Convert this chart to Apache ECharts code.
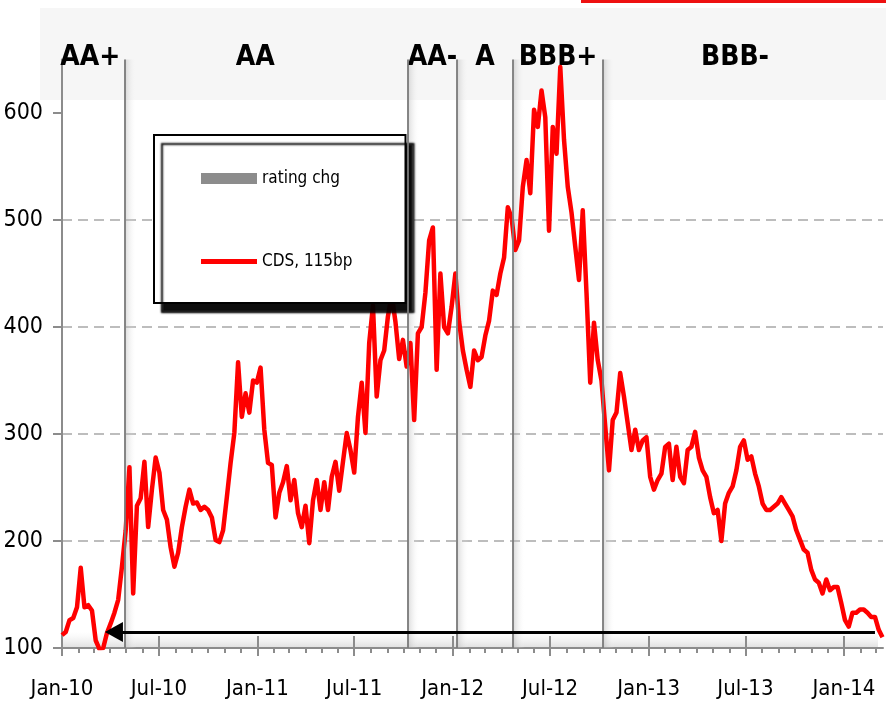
<!DOCTYPE html>
<html>
<head>
<meta charset="utf-8">
<script src="https://cdn.jsdelivr.net/npm/echarts@6/dist/echarts.min.js"></script>
<style>
html, body { margin: 0; padding: 0; background: #fff; }
#main { width: 886px; height: 705px; }
</style>
</head>
<body>
<div id="main"></div>
<script>
// weekly CDS levels (bp), first week starting 2010-01-01
var cds = [
	112, 115, 126, 128, 138, 175, 138, 140, 135, 107, 99, 100, 114, 123, 133, 145, 176, 210, 269, 151,
	233, 240, 274, 213, 248, 278, 264, 229, 220, 194, 176, 189, 213, 232, 248, 235, 236, 229, 232, 229,
	222, 201, 199, 210, 241, 273, 301, 367, 316, 338, 320, 350, 348, 362, 304, 273, 271, 222, 245, 255,
	270, 238, 257, 226, 213, 233, 198, 238, 257, 229, 255, 229, 260, 274, 247, 274, 301, 285, 264, 316,
	348, 301, 385, 420, 335, 369, 378, 410, 430, 405, 370, 388, 363, 385, 313, 394, 400, 432, 481, 493,
	360, 450, 400, 394, 419, 450, 405, 378, 360, 344, 378, 369, 372, 392, 406, 434, 430, 450, 465, 512,
	502, 472, 481, 531, 556, 525, 603, 587, 621, 596, 490, 587, 562, 643, 575, 531, 507, 475, 444, 509,
	432, 348, 404, 369, 350, 307, 266, 313, 320, 357, 335, 310, 285, 304, 285, 294, 297, 260, 248, 257,
	263, 288, 291, 257, 288, 260, 254, 285, 288, 302, 278, 266, 260, 241, 226, 229, 200, 235, 245, 251,
	266, 288, 294, 276, 279, 263, 251, 235, 229, 229, 232, 235, 241, 235, 229, 223, 210, 201, 192, 189,
	173, 164, 161, 151, 164, 154, 157, 157, 142, 126, 120, 133, 133, 136, 136, 133, 129, 129, 117, 110
];
var firstWeek = '2010-01-01';

// S&P rating and the date each rating began
var ratings = ['AA+', 'AA', 'AA-', 'A', 'BBB+', 'BBB-'];
var ratingStarts = ['2010-01-01', '2010-04-28', '2011-10-09', '2012-01-09', '2012-04-23', '2012-10-08'];

var xMin = '2010-01-01';
var xMax = '2014-03-15';
var xTickDates = ['2010-01-01', '2010-07-01', '2011-01-01', '2011-07-01', '2012-01-01',
	'2012-07-01', '2013-01-01', '2013-07-01', '2014-01-01'];
var xTickLabels = ['Jan-10', 'Jul-10', 'Jan-11', 'Jul-11', 'Jan-12', 'Jul-12', 'Jan-13', 'Jul-13', 'Jan-14'];
var yTicks = [100, 200, 300, 400, 500, 600];

// 115bp reference arrow
var arrowLevel = 115;
var arrowFrom = '2014-02-28';
var arrowTo = '2010-04-08';

var narrow = "'DejaVu Sans Condensed', 'Liberation Sans Narrow', sans-serif";
var DAY = 864e5;
var parse = function(s) { return +echarts.time.parse(s); };

var t0 = parse(firstWeek);
var cdsData = cds.map(function(v, k) { return [t0 + k * 7 * DAY, v]; });

var majorTicks = xTickDates.map(parse);
var monthTicks = [];
for (var y = 2010; y <= 2014; y++) {
	for (var m = 0; m < 12; m++) {
		var t = +new Date(y, m, 1);
		if (t <= parse(xMax)) monthTicks.push(t);
	}
}

var changes = ratingStarts.slice(1).map(parse);

// label nudges for the rating names
var labelShift = { 'AA': -11, 'BBB-': -8, 'AA+': -3 };
var ratingAreas = ratings.map(function(r, i) {
	var s = parse(ratingStarts[i]);
	var e = i + 1 < ratingStarts.length ? parse(ratingStarts[i + 1]) : parse(xMax);
	return [{
		name: r, xAxis: s,
		label: { offset: [labelShift[r] || 0, 0] }
	}, { xAxis: e }];
});

var grey = '#8c8c8c';

var myChart = echarts.init(document.getElementById('main'));

var option = {
	animation: false,
	backgroundColor: '#fff',
	graphic: [{
		type: 'rect', z: -1,
		shape: { x: 40, y: 8, width: 846, height: 92 },
		style: { fill: '#f6f6f6' }
	}, {
		type: 'rect', z: -1,
		shape: { x: 62, y: 632, width: 816, height: 16 },
		style: {
			fill: new echarts.graphic.LinearGradient(0, 0, 0, 1, [
				{ offset: 0, color: 'rgba(235,235,235,0)' },
				{ offset: 1, color: 'rgba(215,215,215,0.8)' }
			])
		}
	}, {
		type: 'rect',
		shape: { x: 581, y: 0, width: 305, height: 3 },
		style: { fill: '#ee1111' }
	}],
	grid: { left: 62, right: 3, top: 59.5, bottom: 57 },
	legend: {
		left: 154, top: 135, orient: 'vertical',
		padding: [35, 53, 33, 47],
		itemGap: 66, itemWidth: 56, itemHeight: 12,
		backgroundColor: '#fff', borderColor: '#000', borderWidth: 2, borderRadius: 0,
		shadowColor: 'rgba(0,0,0,0.95)', shadowBlur: 2, shadowOffsetX: 8, shadowOffsetY: 9,
		textStyle: { fontFamily: narrow, fontSize: 17, color: '#000' },
		data: [
			{ name: 'rating chg', icon: 'path://M0,0H56V11H0Z' },
			{ name: 'CDS, 115bp', icon: 'path://M0,0H56V5H0Z' }
		]
	},
	xAxis: [{
		type: 'value', min: parse(xMin), max: parse(xMax),
		axisLine: { lineStyle: { color: grey, width: 2 } },
		axisTick: { customValues: majorTicks, length: 8, lineStyle: { color: grey, width: 2 } },
		axisLabel: {
			customValues: majorTicks, color: '#000', fontFamily: narrow, fontSize: 22, margin: 30,
			formatter: function(val) {
				for (var i = 0; i < majorTicks.length; i++) {
					if (Math.abs(majorTicks[i] - val) < DAY) return xTickLabels[i];
				}
				return '';
			}
		},
		splitLine: { show: false }
	}, {
		type: 'value', min: parse(xMin), max: parse(xMax), position: 'bottom',
		axisLine: { show: false },
		axisTick: { customValues: monthTicks, length: 5, lineStyle: { color: grey, width: 2 } },
		axisLabel: { show: false },
		splitLine: { show: false }
	}, {
		type: 'value', min: parse(xMin), max: parse(xMax), position: 'bottom',
		axisLine: { show: false },
		axisTick: { customValues: majorTicks.slice(1), inside: true, length: 12, lineStyle: { color: grey, width: 2 } },
		axisLabel: { show: false },
		splitLine: { show: false }
	}],
	yAxis: {
		type: 'value', min: 100, max: 650, interval: 100,
		axisLine: { show: true, lineStyle: { color: grey, width: 2 } },
		axisTick: { show: true, customValues: yTicks, length: 9, lineStyle: { color: grey, width: 2 } },
		axisLabel: { customValues: yTicks, color: '#000', fontFamily: narrow, fontSize: 23, margin: 19 },
		splitLine: {
			show: true, showMinLine: false, showMaxLine: false,
			lineStyle: { color: '#bdbdbd', width: 2, type: [10, 6] }
		}
	},
	series: [{
		name: 'rating chg',
		type: 'line',
		color: '#8c8c8c',
		data: [],
		markLine: {
			silent: true, symbol: ['none', 'none'],
			label: { show: false },
			lineStyle: { color: '#7a7a7a', width: 1.8, type: 'solid' },
			data: changes.map(function(d) { return { xAxis: d }; })
		},
		markArea: {
			silent: true,
			itemStyle: {
				color: new echarts.graphic.LinearGradient(0, 0, 1, 0, [
					{ offset: 0, color: 'rgba(170,170,170,0.45)' },
					{ offset: 1, color: 'rgba(255,255,255,0)' }
				])
			},
			data: changes.map(function(d) { return [{ xAxis: d }, { xAxis: d + 22 * DAY }]; })
		}
	}, {
		name: 'ratings',
		type: 'line',
		data: [],
		markArea: {
			silent: true,
			itemStyle: { color: 'rgba(0,0,0,0)' },
			label: {
				show: true, position: 'top', distance: -12,
				fontFamily: narrow, fontWeight: 'bold', fontSize: 28, color: '#000'
			},
			data: ratingAreas
		}
	}, {
		name: 'CDS, 115bp',
		type: 'line',
		color: '#ff0000',
		showSymbol: false,
		symbol: 'none',
		lineStyle: { width: 4.5, color: '#ff0000', join: 'round' },
		data: cdsData,
		markLine: {
			silent: true,
			label: { show: false },
			lineStyle: { color: '#000', width: 3, type: 'solid' },
			data: [[
				{ coord: [parse(arrowFrom), arrowLevel], symbol: 'none' },
				{ coord: [parse(arrowTo), arrowLevel], symbol: 'triangle', symbolSize: [20, 18] }
			]]
		}
	}]
};

myChart.setOption(option);
</script>
</body>
</html>
